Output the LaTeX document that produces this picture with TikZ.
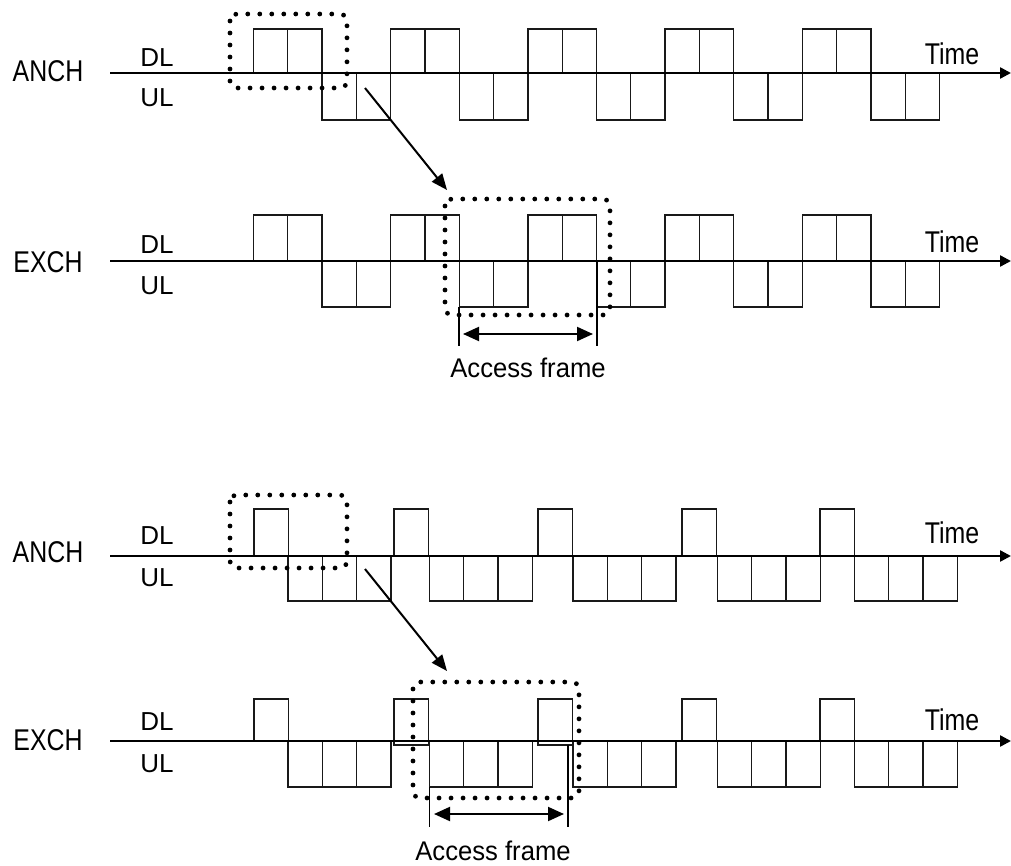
\documentclass[tikz,border=0pt]{standalone}
\usepackage{fontspec}
\setmainfont{Liberation Sans}
\newfontfamily\narrowf[FakeStretch=0.83]{Liberation Sans}
\newfontfamily\accf[FakeStretch=0.95]{Liberation Sans}
\usetikzlibrary{arrows.meta}
\tikzset{
  slot/.style={draw=black!90, line width=1.3pt},
  axisline/.style={line width=2.4pt, -{Triangle[length=11pt,width=11pt]}},
  dotbox/.style={line width=4.8pt, dash pattern=on 0pt off 12pt, line cap=round, rounded corners=7pt},
  conn/.style={line width=2pt, -{Triangle[length=16pt,width=13pt]}},
  dbl/.style={line width=2pt, {Triangle[length=16pt,width=14pt]}-{Triangle[length=16pt,width=14pt]}},
  fline/.style={line width=1.6pt},
  chlabel/.style={font=\narrowf\fontsize{30}{30}\selectfont, inner sep=0pt},
  timelabel/.style={font=\narrowf\fontsize{30}{30}\selectfont, inner sep=0pt},
  dirlabel/.style={font=\fontsize{26}{26}\selectfont, inner sep=0pt},
  acclabel/.style={font=\accf\fontsize{27}{27}\selectfont, inner sep=0pt}
}
\begin{document}
\begin{tikzpicture}[x=1pt,y=-1pt]
\useasboundingbox[fill=white] (0,0) rectangle (1011,866);

% ---------- top panel: slots ----------
\foreach \s in {253.5,390.7,527.9,665.1,802.3}{
  \foreach \k in {0,1}{
    \draw[slot] ({\s+\k*34.3},29) rectangle ({\s+(\k+1)*34.3},73);
    \draw[slot] ({\s+68.6+\k*34.3},73) rectangle ({\s+68.6+(\k+1)*34.3},120);
    \draw[slot] ({\s+\k*34.3},215) rectangle ({\s+(\k+1)*34.3},261);
    \draw[slot] ({\s+68.6+\k*34.3},261) rectangle ({\s+68.6+(\k+1)*34.3},307);
  }
}
% ---------- bottom panel: slots ----------
\foreach \d/\u in {254/288, 394/429.5, 538/573, 682/717.5, 820/854.5}{
  \draw[slot] (\d,509) rectangle ({\d+34.3},556);
  \draw[slot] (\d,699) rectangle ({\d+34.3},741);
  \foreach \k in {0,1,2}{
    \draw[slot] ({\u+\k*34.3},556) rectangle ({\u+(\k+1)*34.3},601);
    \draw[slot] ({\u+\k*34.3},741) rectangle ({\u+(\k+1)*34.3},787);
  }
}
\draw[slot] (394,741) -- (394,745) -- (428.3,745) -- (428.3,741);
\draw[slot] (538,741) -- (538,745) -- (572.3,745) -- (572.3,741);

% ---------- axes ----------
\foreach \y in {73,261,556,741}{
  \coordinate (ax0-\y) at (110,\y);
  \coordinate (ax1-\y) at (1011,\y);
  \draw[axisline] (ax0-\y) -- (ax1-\y);
}

% ---------- labels ----------
\node[chlabel] (anch1) at (48,71) {ANCH};
\node[chlabel] (exch1) at (48,262) {EXCH};
\node[chlabel] (anch2) at (48,552) {ANCH};
\node[chlabel] (exch2) at (48,740) {EXCH};

\node[dirlabel] (dl1) at (157,57.5) {DL};
\node[dirlabel] (ul1) at (157,97.5) {UL};
\node[dirlabel] (dl2) at (157,245) {DL};
\node[dirlabel] (ul2) at (157,286) {UL};
\node[dirlabel] (dl3) at (157,536) {DL};
\node[dirlabel] (ul3) at (157,578) {UL};
\node[dirlabel] (dl4) at (157,722) {DL};
\node[dirlabel] (ul4) at (157,764) {UL};

\node[timelabel] (t1) at (952,54) {Time};
\node[timelabel] (t2) at (952,242) {Time};
\node[timelabel] (t3) at (952,533) {Time};
\node[timelabel] (t4) at (952,720) {Time};

% ---------- dotted selection boxes ----------
\draw[dotbox] (230,14) rectangle (347,88);
\draw[dotbox] (445,199) rectangle (610,315);
\draw[dotbox] (230,495) rectangle (347,568);
\draw[dotbox] (413,682) rectangle (579,798);

% ---------- mapping arrows ----------
\coordinate (m1s) at (365,88);
\coordinate (m1e) at (447,190);
\draw[conn] (m1s) -- (m1e);
\coordinate (m2s) at (365,569);
\coordinate (m2e) at (447,671);
\draw[conn] (m2s) -- (m2e);

% ---------- access frame (top) ----------
\coordinate (f1a) at (459,307);
\coordinate (f1b) at (459,346);
\coordinate (f1c) at (597,261);
\coordinate (f1d) at (597,346);
\draw[fline] (f1a) -- (f1b);
\draw[fline] (f1c) -- (f1d);
\coordinate (f1l) at (463,334);
\coordinate (f1r) at (593,334);
\draw[dbl] (f1l) -- (f1r);
\node[acclabel] (acc1) at (528,368) {Access frame};

% ---------- access frame (bottom) ----------
\coordinate (f2a) at (429.5,787);
\coordinate (f2b) at (429.5,827);
\coordinate (f2c) at (568,745);
\coordinate (f2d) at (568,827);
\draw[fline] (f2a) -- (f2b);
\draw[fline] (f2c) -- (f2d);
\coordinate (f2l) at (434,814);
\coordinate (f2r) at (564,814);
\draw[dbl] (f2l) -- (f2r);
\node[acclabel] (acc2) at (493,851) {Access frame};
\end{tikzpicture}
\end{document}
